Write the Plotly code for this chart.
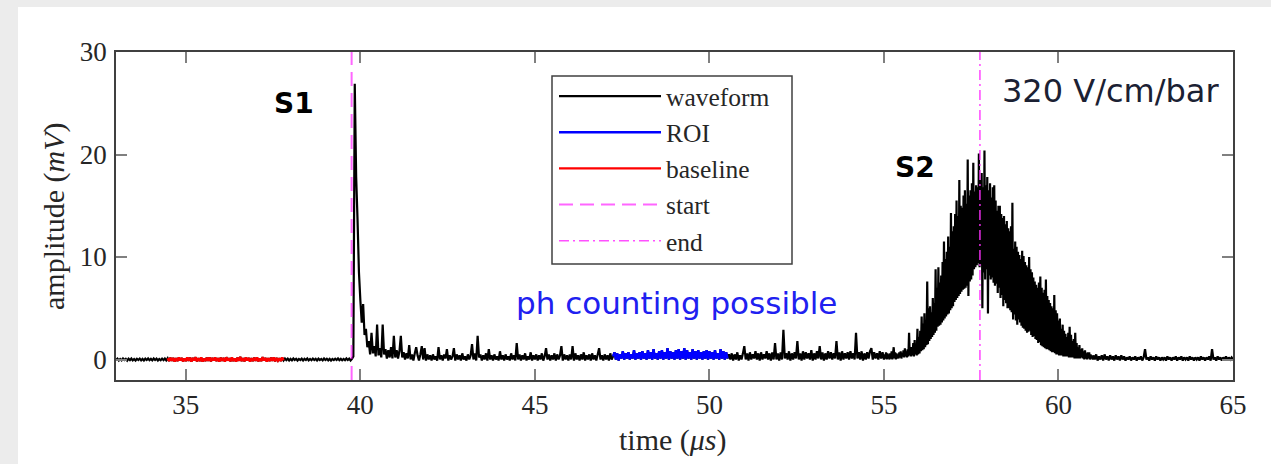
import numpy as np
import plotly.graph_objects as go

# ---------------- data ----------------
row_start = 33.0        # first row starts at t = 33 us; each row spans 1 us
row_span = 1.0          # us per row (samples evenly spread inside a row)

# amplitude (mV), one row per microsecond starting at t = 33 us
wave_rows = [
    # 33
    [-0.05,0.08,-0.1,0.05,-0.08,0.1,-0.05,0.06,-0.12,0.08,-0.06,0.1,-0.08,0.05,-0.1,0.07,-0.05,0.09,-0.08,0.06,-0.1,0.08,-0.05,0.1,-0.07],
    # 34
    [0.06,-0.08,0.1,-0.05,0.08,-0.1,0.05,-0.07,0.09,-0.06,0.1,-0.08,0.12,-0.15,0.18,-0.12,0.15,-0.2,0.12,-0.15,0.2,-0.1,0.15,-0.18,0.1],
    # 35
    [-0.15,0.2,-0.12,0.18,-0.2,0.15,-0.1,0.22,-0.18,0.12,-0.15,0.2,-0.2,0.1,-0.15,0.18,-0.12,0.2,-0.18,0.15,-0.1,0.2,-0.15,0.12,-0.2],
    # 36
    [0.18,-0.12,0.15,-0.2,0.22,-0.1,0.12,-0.18,0.2,-0.15,0.1,-0.2,0.18,-0.12,0.25,-0.15,0.12,-0.18,0.2,-0.1,0.15,-0.2,0.12,-0.15,0.18],
    # 37
    [-0.12,0.2,-0.18,0.1,-0.15,0.22,-0.1,0.15,-0.2,0.12,-0.15,0.18,-0.12,0.2,-0.18,0.15,-0.1,0.12,-0.15,0.2,-0.08,0.1,-0.06,0.08,-0.1],
    # 38
    [0.06,-0.08,0.1,-0.05,0.07,-0.1,0.05,-0.06,0.08,-0.1,0.06,-0.05,0.1,-0.08,0.05,-0.07,0.09,-0.05,0.06,-0.1,0.08,-0.06,0.05,-0.08,0.1],
    # 39  (S1 at 39.84)
    [-0.05,0.07,-0.08,0.06,-0.1,0.05,-0.06,0.08,-0.05,0.1,-0.07,0.06,-0.08,0.05,-0.06,0.1,-0.05,0.08,-0.1,0.06,0.3,26.9,17.8,13.6,8.5],
    # 40
    [5.8,3.6,5.4,2.4,3.0,1.2,1.8,0.5,2.6,0.6,1.3,0.3,3.4,0.4,1.1,0.2,3.4,0.5,1.0,0.1,0.9,0.2,1.2,0.1,2.3],
    # 41
    [0.2,0.9,0.1,0.8,2.3,0.2,0.7,0.0,0.6,0.1,1.4,0.0,0.5,-0.1,0.6,1.2,0.4,-0.1,0.5,1.3,0.0,1.1,-0.1,0.5,0.0],
    # 42
    [0.4,-0.1,0.5,0.0,0.3,-0.1,1.2,0.0,0.4,-0.1,0.5,0.1,1.0,-0.1,0.4,0.0,0.3,1.1,-0.1,0.5,0.0,0.4,-0.1,0.6,0.0],
    # 43
    [0.3,-0.1,0.5,0.0,0.4,1.5,0.0,0.6,-0.1,2.3,0.2,0.5,-0.1,0.4,0.0,0.6,-0.1,1.0,0.0,0.4,-0.1,0.5,0.0,0.3,-0.1],
    # 44
    [0.8,0.0,0.4,-0.1,0.5,0.0,0.3,-0.1,0.6,0.0,0.4,-0.1,1.6,0.0,0.5,-0.1,0.4,0.0,0.6,-0.1,0.3,0.0,0.7,-0.1,0.4],
    # 45
    [0.0,0.5,-0.1,0.4,0.0,0.6,-0.1,0.3,1.1,0.0,0.5,-0.1,0.4,0.0,0.6,-0.1,0.5,0.0,0.4,1.3,-0.1,0.5,0.0,0.4,-0.1],
    # 46
    [0.5,0.0,1.3,-0.1,0.6,0.0,0.4,-0.1,0.5,0.0,0.7,-0.1,0.4,0.0,0.5,-0.1,0.6,0.0,0.4,-0.1,0.5,1.1,0.0,0.4,-0.1],
    # 47
    [0.5,0.0,0.4,-0.1,0.6,0.0,0.3,0.7,0.0,0.6,-0.1,0.5,0.1,0.8,0.0,0.6,0.1,0.7,0.0,0.5,0.1,0.9,0.0,0.6,0.1],
    # 48
    [0.7,0.0,0.8,0.1,0.6,0.0,0.9,0.1,0.7,0.0,1.0,0.1,0.6,0.0,0.8,0.1,0.9,0.0,0.7,0.1,1.1,0.0,0.8,0.1,0.7],
    # 49
    [0.0,0.9,0.1,1.0,0.0,0.8,0.1,1.1,0.0,0.9,0.1,0.7,0.0,1.0,0.1,0.8,0.0,0.9,0.1,0.7,0.0,0.8,0.1,0.9,0.0],
    # 50
    [0.8,0.1,0.7,0.0,0.9,0.1,0.6,0.0,1.0,0.1,0.8,0.0,0.7,0.1,0.5,0.0,0.6,-0.1,0.5,0.0,0.7,-0.1,0.4,0.0,0.6],
    # 51
    [1.3,0.0,0.6,-0.1,0.7,0.0,0.5,0.1,0.8,0.0,0.6,-0.1,0.7,0.0,0.5,0.1,0.8,0.0,0.6,-0.1,0.7,0.0,1.6,0.0,0.6],
    # 52
    [-0.1,0.7,0.0,2.9,0.1,0.6,0.0,0.8,-0.1,0.6,0.0,0.7,0.1,1.8,0.0,0.6,-0.1,0.8,0.0,0.7,0.1,0.6,0.0,0.9,-0.1],
    # 53
    [0.6,0.0,0.8,0.1,1.3,0.0,0.7,-0.1,0.6,0.0,0.8,0.1,0.7,0.0,0.6,0.1,1.8,0.0,0.7,-0.1,0.8,0.0,0.6,0.1,0.7],
    # 54
    [0.0,0.8,0.1,0.6,0.0,2.6,0.1,0.7,0.0,0.8,-0.1,0.6,0.0,0.7,0.1,0.8,1.1,0.0,0.7,0.1,0.6,0.0,0.8,0.1,0.7],
    # 55  (S2 rising, finer sampling)
    [0.0,0.5,0.1,0.7,0.0,0.6,0.1,0.5,0.0,0.6, 0.1,0.8,0.0,0.6,1.2,0.1,0.7,0.0,0.6,0.1,
     0.5,0.1,0.7,0.2,0.8,0.1,0.6,0.3,0.9,0.2, 1.1,0.3,0.8,0.2,1.0,0.3,2.6,0.4,1.2,0.3,
     1.2,0.4,1.6,0.3,1.9,0.5,1.4,0.4,3.0,0.5],
    # 56
    [2.2,0.6,2.8,0.8,4.2,0.9,3.5,1.0,4.5,1.2, 3.8,1.4,7.6,1.5,5.0,1.8,5.2,2.0,4.6,2.2,
     6.0,2.4,5.5,2.6,8.8,2.8,7.0,3.2,9.0,3.3, 7.5,3.4,8.2,3.6,9.5,3.8,11.5,4.0,9.8,4.2,
     10.5,4.4,12.0,4.5,11.0,4.8,14.3,5.0,12.5,5.2],
    # 57
    [13.0,5.6,14.2,5.8,15.5,6.0,14.0,6.2,17.5,6.4, 15.0,6.6,14.8,6.8,16.0,6.9,16.5,7.0,15.2,7.2,
     19.5,6.2,16.0,7.6,16.5,7.8,17.2,8.2,19.2,8.8, 16.4,9.0,17.0,9.2,16.8,9.4,20.1,9.0,17.5,9.3,
     18.2,5.0,16.8,8.5,20.4,7.8,17.0,8.8,17.8,4.5],
    # 58
    [16.5,8.2,17.2,7.8,15.8,8.0,16.8,7.5,17.0,7.2, 15.5,7.4,14.5,6.5,15.0,7.0,15.0,6.0,14.2,6.3,
     13.8,5.2,14.0,5.8,13.2,5.5,13.5,5.0,12.8,5.0, 12.5,4.8,13.0,4.6,15.3,3.9,10.8,4.4,11.5,3.8,
     11.0,3.4,10.5,3.9,10.2,3.6,9.8,3.3,10.6,3.1],
    # 59
    [10.1,3.0,9.5,2.8,9.2,2.6,9.0,2.7,10.0,2.8, 8.8,2.4,8.5,2.2,8.0,2.3,7.6,2.0,7.3,1.9,
     7.0,1.6,7.5,1.7,8.1,1.4,7.0,1.3,6.5,1.2, 6.8,1.1,7.8,1.0,6.2,1.0,5.8,0.9,5.5,0.8,
     5.2,0.7,5.0,0.7,6.3,0.6,4.8,0.5,4.5,0.5],
    # 60
    [3.8,0.4,4.0,0.4,3.0,0.4,3.4,0.3,2.8,0.3, 2.5,0.3,2.2,0.3,2.6,0.2,3.2,0.2,2.4,0.2,
     1.8,0.2,2.0,0.1,2.6,0.1,1.6,0.1,1.2,0.1, 1.4,0.1,1.0,0.2,1.1,0.1,0.8,0.0,0.9,0.1,
     0.6,0.0,0.7,0.1,0.7,0.0,0.5,0.1,0.4,0.0],
    # 61
    [0.4,0.0,0.5,-0.1,0.3,0.0,0.4,-0.1,0.5,0.0,0.3,-0.1,0.4,0.0,0.3,-0.1,0.4,0.0,0.3,-0.1,0.4,0.0,0.3,-0.1,0.2],
    # 62
    [0.0,0.3,-0.1,0.2,0.0,0.3,-0.1,0.2,0.0,0.3,-0.1,0.2,1.0,0.0,0.2,-0.1,0.3,0.0,0.2,-0.1,0.3,0.0,0.2,-0.1,0.2],
    # 63
    [0.0,0.2,-0.1,0.3,0.0,0.2,-0.1,0.2,0.0,0.3,-0.1,0.2,0.0,0.3,-0.1,0.2,0.0,0.2,-0.1,0.3,0.0,0.2,-0.1,0.2,0.0],
    # 64
    [0.2,-0.1,0.3,0.0,0.2,-0.1,0.2,0.0,0.3,-0.1,1.0,0.0,0.2,-0.1,0.3,0.0,0.2,-0.1,0.2,0.0,0.3,-0.1,0.2,0.0,0.2],
    # 65
    [0.0],
]

baseline_window = [34.48, 37.80]   # us
roi_window = [47.24, 50.52]        # us
start_time = 39.75                 # us
end_time = 57.75                   # us

x_range = [33, 65]
y_range = [-2, 30]
x_ticks = [35, 40, 45, 50, 55, 60, 65]
y_ticks = [0, 10, 20, 30]

# ---------------- build series ----------------
wave_t_list, wave_v_list = [], []
for k, row in enumerate(wave_rows):
    t0 = row_start + k * row_span
    n = len(row)
    for i, v in enumerate(row):
        wave_t_list.append(round(t0 + row_span * i / n, 4))
        wave_v_list.append(v)
wave_t = np.array(wave_t_list)
wave_v = np.array(wave_v_list)

def window(t, v, w):
    m = (t >= w[0]) & (t <= w[1])
    return t[m], v[m]

base_t, base_v = window(wave_t, wave_v, baseline_window)
roi_t, roi_v = window(wave_t, wave_v, roi_window)

# ---------------- figure ----------------
W, H = 1271, 464
L, R, T, B = 116, 38, 52, 84
pw, ph = W - L - R, H - T - B

def px(x):
    return (x - L) / pw

def py(y):
    return (H - B - y) / ph

serif = "Liberation Serif"
sans = "DejaVu Sans"

fig = go.Figure()
fig.add_trace(go.Scatter(x=wave_t, y=wave_v, mode="lines", name="waveform",
                         line=dict(color="black", width=2.2, simplify=False), legendgroup="a"))
fig.add_trace(go.Scatter(x=roi_t, y=roi_v, mode="lines", name="ROI",
                         line=dict(color="#0000ff", width=2.3, simplify=False), legendgroup="b"))
fig.add_trace(go.Scatter(x=base_t, y=base_v, mode="lines", name="baseline",
                         line=dict(color="#ff0000", width=2.4, simplify=False), legendgroup="c"))
fig.add_trace(go.Scatter(x=[start_time, start_time], y=y_range, mode="lines", name="start",
                         line=dict(color="rgba(255,0,255,0.6)", width=2, dash="14px,7px"),
                         legendgroup="d"))
fig.add_trace(go.Scatter(x=[end_time, end_time], y=y_range, mode="lines", name="end",
                         line=dict(color="rgba(255,50,255,0.85)", width=1.6,
                                   dash="10px,4px,2px,4px"),
                         legendgroup="e"))

axis_common = dict(showline=True, linecolor="#404040", linewidth=1.5, mirror="ticks",
                   ticks="inside", ticklen=11, tickcolor="#808080", tickwidth=1.5,
                   showgrid=False, zeroline=False,
                   tickfont=dict(family=serif, size=27, color="#262626"))

fig.update_xaxes(range=x_range, tickvals=x_ticks, ticklabelstandoff=0, **axis_common)
fig.update_yaxes(range=y_range, tickvals=y_ticks, ticklabelstandoff=2, **axis_common)

annotations = [
    dict(x=px(54), y=py(217), text="amplitude (<i>mV</i>)", textangle=-90,
         font=dict(family=serif, size=30, color="#262626")),
    dict(x=px(673), y=py(440), text="time (<i>μs</i>)",
         font=dict(family=serif, size=30, color="#262626")),
    dict(x=px(294), y=py(103), text="<b>S1</b>", font=dict(family=sans, size=28, color="black")),
    dict(x=px(915), y=py(167), text="<b>S2</b>", font=dict(family=sans, size=28, color="black")),
    dict(x=px(1110), y=py(91), text="320 V/cm/bar", font=dict(family=sans, size=32, color="#1b2133")),
    dict(x=px(676), y=py(303), text="ph counting possible", font=dict(family=sans, size=31, color="#2020f0")),
]
for a in annotations:
    a.update(xref="paper", yref="paper", showarrow=False, xanchor="center", yanchor="middle")

fig.update_layout(
    width=W, height=H,
    margin=dict(l=L, r=R, t=T, b=B),
    paper_bgcolor="#ececec",
    plot_bgcolor="white",
    showlegend=True,
    legend=dict(x=px(554), y=py(73), xanchor="left", yanchor="top",
                bgcolor="rgba(0,0,0,0)", borderwidth=0,
                font=dict(family=serif, size=25.5, color="#262626"),
                itemwidth=102, tracegroupgap=0, traceorder="normal"),
    annotations=annotations,
    shapes=[
        dict(type="rect", xref="paper", yref="paper", layer="below",
             x0=px(18), x1=px(W + 5), y0=py(H + 5), y1=py(7),
             fillcolor="white", line=dict(width=0)),
        dict(type="rect", xref="paper", yref="paper", layer="above",
             x0=px(552), x1=px(792), y0=py(264), y1=py(76),
             fillcolor="rgba(0,0,0,0)", line=dict(color="#404040", width=1.5)),
    ],
)

fig.write_html("out.html",
               config={"displayModeBar": False},
               post_script="document.body.style.margin='0px';"
                           "document.body.style.overflow='hidden';")
